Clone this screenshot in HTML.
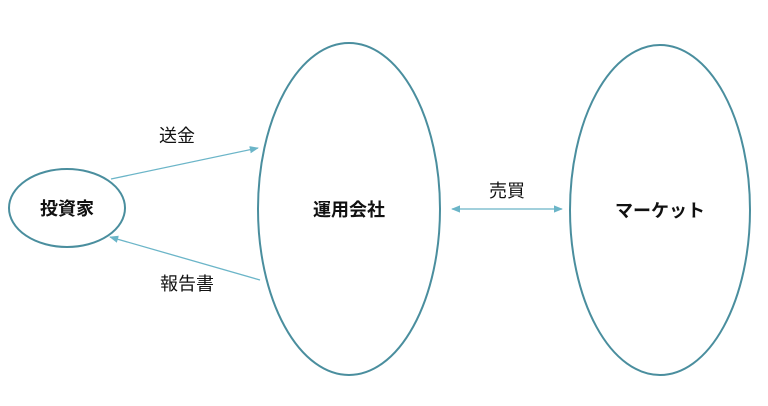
<!DOCTYPE html>
<html><head><meta charset="utf-8"><style>
html,body{margin:0;padding:0;background:#fff;}
svg{display:block;}
text{font-family:"Liberation Sans","Noto Sans CJK JP",sans-serif;fill:#111;}
</style></head><body>
<svg width="768" height="406" viewBox="0 0 768 406" xmlns="http://www.w3.org/2000/svg">
<defs>
<marker id="a" viewBox="0 0 10 10" refX="9" refY="5" markerWidth="7" markerHeight="7" orient="auto-start-reverse">
<path d="M0,1 L10,5 L0,9 z" fill="#6bb5c8"/></marker>
</defs>
<ellipse cx="67" cy="208" rx="58" ry="39" fill="none" stroke="#4a8e9e" stroke-width="2"/>
<ellipse cx="349" cy="209" rx="91" ry="166" fill="none" stroke="#4a8e9e" stroke-width="2"/>
<ellipse cx="660" cy="210" rx="90" ry="165" fill="none" stroke="#4a8e9e" stroke-width="2"/>
<line x1="111" y1="179" x2="258" y2="148" stroke="#6bb5c8" stroke-width="1.3" marker-end="url(#a)"/>
<line x1="260" y1="280" x2="110" y2="237" stroke="#6bb5c8" stroke-width="1.3" marker-end="url(#a)"/>
<line x1="452" y1="209" x2="562" y2="209" stroke="#6bb5c8" stroke-width="1.3" marker-start="url(#a)" marker-end="url(#a)"/>
<text x="67" y="215" font-size="18" font-weight="bold" text-anchor="middle">投資家</text>
<text x="349" y="216" font-size="18" font-weight="bold" text-anchor="middle">運用会社</text>
<text x="660" y="217" font-size="18" font-weight="bold" text-anchor="middle">マーケット</text>
<text x="177" y="142" font-size="18" text-anchor="middle">送金</text>
<text x="187" y="290" font-size="18" text-anchor="middle">報告書</text>
<text x="507" y="197" font-size="18" text-anchor="middle">売買</text>
</svg>
</body></html>
